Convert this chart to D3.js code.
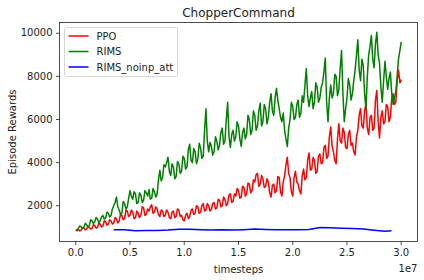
<!DOCTYPE html>
<html>
<head>
<meta charset="utf-8">
<script src="https://cdn.jsdelivr.net/npm/d3@7"></script>
<style>
body { margin: 0; background: #fff; }
text { font-family: "DejaVu Sans", sans-serif; fill: #222; }
.tick line { stroke: #222; stroke-width: 0.8; }
.line { fill: none; stroke-width: 1.5; stroke-linejoin: round; }
</style>
</head>
<body>
<div id="chart"></div>
<script>
// Data (one value every 0.0125e7 timesteps for PPO / RIMS)
const steps = d3.range(0, 241).map(i => i * 125000);

const ppo = [870, 840, 900, 830, 860, 990, 960, 880, 920, 1030, 1000, 920, 950, 1120, 1080, 960, 1000, 1200, 1150, 1010,
1050, 1300, 1250, 1100, 1150, 1350, 1300, 1150, 1200, 1450, 1400, 1200, 1300, 1600, 1550, 1350, 1400, 1800, 1750, 1500,
1550, 1800, 1700, 1400, 1450, 1750, 1650, 1450, 1550, 1950, 1900, 1550, 1600, 1850, 1750, 1950, 2050, 1650, 1700, 1950,
1850, 1600, 1500, 1800, 1750, 1500, 1550, 1800, 1700, 1450, 1400, 1700, 1750, 1450, 1500, 1850, 1800, 1500, 1550, 1350,
1300, 1550, 1650, 1400, 1500, 1800, 1850, 1600, 1650, 2000, 1950, 1650, 1700, 2000, 2100, 1750, 1800, 2100, 2000, 1750,
1850, 2100, 2150, 1850, 1900, 2300, 2250, 1950, 2000, 2400, 2300, 2000, 2100, 2500, 2550, 2150, 2200, 2550, 2450, 2800,
2700, 2350, 2400, 2900, 2850, 2450, 2550, 3050, 3000, 2600, 2700, 3200, 3100, 3450, 3500, 2900, 3000, 3400, 3250, 2850,
2900, 3250, 3100, 2600, 2400, 2950, 3000, 2600, 2700, 3350, 3300, 2650, 2450, 3100, 3400, 3900, 4250, 3500, 3300, 2650,
2450, 3300, 3600, 3100, 3000, 2700, 2550, 3400, 3700, 3200, 3300, 4100, 4450, 3650, 3700, 4250, 4100, 3500, 3600, 4300,
4400, 3950, 4000, 4700, 4800, 4200, 4300, 5200, 5650, 4800, 4500, 4100, 3950, 5100, 5800, 5000, 4900, 5600, 5400, 4700,
4650, 5300, 5500, 4800, 4900, 4500, 4350, 5200, 5500, 6200, 6500, 5700, 5600, 6400, 6750, 5600, 5300, 6100, 6200, 5500,
5600, 6900, 7350, 5900, 5150, 6100, 6400, 5800, 5900, 6700, 6600, 5900, 6100, 7000, 7200, 6700, 6800, 7800, 8300, 7700,
7850];

const rims = [900, 870, 960, 1060, 1020, 940, 1000, 1180, 1120, 1010, 1080, 1350, 1300, 1180, 1250, 1450, 1380, 1220, 1290, 1480,
1550, 1380, 1420, 1700, 1650, 1480, 1550, 1850, 2000, 2150, 2400, 1950, 1800, 1600, 1650, 2200, 2100, 1850, 1950, 2350,
2700, 2450, 2300, 2650, 2550, 2100, 2150, 2600, 2500, 2150, 2250, 2700, 2600, 2450, 2750, 2300, 2350, 2800, 2650, 2400,
2550, 3200, 3650, 3150, 3300, 3900, 3800, 4000, 4250, 3600, 3400, 3950, 3800, 3250, 3350, 4050, 3950, 3500, 3600, 4300,
4200, 3700, 3800, 4600, 4850, 4100, 4000, 4650, 4500, 3950, 4150, 4900, 4700, 4200, 4300, 5500, 6500, 5000, 4500, 4950,
4750, 4350, 4500, 5200, 5000, 4600, 4800, 5400, 5600, 4850, 5000, 6000, 6800, 5200, 4700, 5300, 5500, 5000, 5200, 5900,
5700, 5100, 4750, 5400, 5600, 5100, 5300, 6200, 6000, 5300, 5500, 6400, 6200, 5500, 5700, 6400, 6750, 5700, 5900, 6700,
6500, 5800, 6100, 6800, 7200, 6400, 6200, 7000, 7450, 6900, 6500, 6100, 5900, 6300, 5500, 5100, 4750, 5600, 6000, 6800,
6600, 6000, 6100, 6700, 6900, 6100, 6300, 7100, 6800, 7600, 8350, 7100, 6600, 7000, 7300, 6500, 6800, 7700, 7500, 6800,
7000, 7500, 7700, 8200, 8850, 6800, 5900, 7000, 7600, 7000, 7200, 8100, 8000, 7100, 7400, 8400, 9200, 7200, 5900, 6500,
7000, 7900, 7600, 6900, 7200, 7800, 8300, 9000, 9700, 8300, 7800, 8800, 8500, 7200, 6500, 8000, 9000, 9400, 9900, 8800,
8400, 9500, 10050, 9000, 8600, 7500, 6800, 7800, 8700, 8000, 7400, 7900, 8200, 7200, 6700, 7000, 7300, 8000, 8800, 9200,
9600];

const noinpSteps = [3500000, 4500000, 5500000, 6500000, 7500000, 8500000, 9500000,
10500000, 11500000, 12500000, 13500000, 14500000, 15500000, 16500000, 17500000,
18500000, 19500000, 20500000, 21500000, 22500000, 23500000, 24500000, 25500000,
26500000, 27500000, 28500000, 29100000];
const noinp = [885, 880, 840, 845, 855, 870, 910, 905, 885, 872, 880, 875, 890,
915, 900, 885, 880, 888, 900, 985, 975, 955, 945, 920, 860, 810, 835];

const xTicks = [0, 5000000, 10000000, 15000000, 20000000, 25000000, 30000000];
const yTicks = [2000, 4000, 6000, 8000, 10000];

const series = [
  { name: "PPO", color: "#ff0000", x: steps, y: ppo },
  { name: "RIMS", color: "#008000", x: steps, y: rims },
  { name: "RIMS_noinp_att", color: "#0000ff", x: noinpSteps, y: noinp }
];

// Dimensions
const margin = { top: 22.5, right: 6.5, bottom: 38.5, left: 59.5 };
const width = 424 - margin.left - margin.right;
const height = 280 - margin.top - margin.bottom;

const svg = d3.select("#chart")
.append("svg")
.attr("width", 424)
.attr("height", 280)
.append("g")
.attr("transform", `translate(${margin.left},${margin.top})`);

// Scales
const xScale = d3.scaleLinear()
.domain([-1500000, 31500000])
.range([0, width]);

const yScale = d3.scaleLinear()
.domain([340, 10500])
.range([height, 0]);

// Axes
const xAxis = svg.append("g")
.attr("transform", `translate(0,${height})`)
.call(d3.axisBottom(xScale).tickValues(xTicks).tickSize(3.5).tickPadding(3.5).offset(0)
  .tickFormat(d => (d / 1e7).toFixed(1)));

const yAxis = svg.append("g")
.call(d3.axisLeft(yScale).tickValues(yTicks).tickSize(3.5).tickPadding(3.5).offset(0)
  .tickFormat(d3.format("d")));

[xAxis, yAxis].forEach(a => {
  a.select(".domain").remove();
  a.selectAll("text").style("font-size", "10px").style("fill", "#222");
});

// Lines
const line = d3.line()
.x(d => xScale(d[0]))
.y(d => yScale(d[1]));

series.forEach(s => {
  svg.append("path")
  .datum(s.x.map((x, i) => [x, s.y[i]]))
  .attr("class", "line")
  .attr("stroke", s.color)
  .attr("d", line);
});

// Frame
svg.append("rect")
.attr("width", width)
.attr("height", height)
.attr("fill", "none")
.attr("stroke", "#222")
.attr("stroke-width", 0.8);

// Labels
svg.append("text")
.attr("x", width / 2)
.attr("y", -6)
.attr("text-anchor", "middle")
.style("font-size", "12px")
.text("ChopperCommand");

svg.append("text")
.attr("x", width / 2)
.attr("y", height + 31)
.attr("text-anchor", "middle")
.style("font-size", "10px")
.text("timesteps");

svg.append("text")
.attr("x", width)
.attr("y", height + 30)
.attr("text-anchor", "end")
.style("font-size", "10px")
.text("1e7");

svg.append("text")
.attr("transform", `translate(${-44},${height / 2}) rotate(-90)`)
.attr("text-anchor", "middle")
.style("font-size", "10px")
.text("Episode Rewards");

// Legend
const legend = svg.append("g").attr("transform", "translate(5,5)");

legend.append("rect")
.attr("width", 113)
.attr("height", 49)
.attr("rx", 2)
.attr("fill", "#fff")
.attr("fill-opacity", 0.8)
.attr("stroke", "#ccc")
.attr("stroke-width", 0.8);

series.forEach((s, i) => {
  const y = 8.5 + i * 15.5;
  legend.append("line")
  .attr("x1", 4).attr("x2", 24)
  .attr("y1", y).attr("y2", y)
  .attr("stroke", s.color)
  .attr("stroke-width", 1.5);
  legend.append("text")
  .attr("x", 32)
  .attr("y", y + 3.6)
  .style("font-size", "10px")
  .text(s.name);
});
</script>
</body>
</html>
